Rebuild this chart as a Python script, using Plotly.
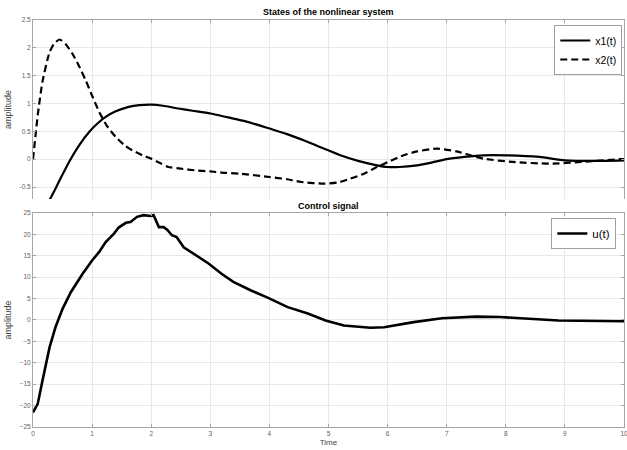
import plotly.graph_objects as go

# ---- data ----
t_x1 = [0, 0.14, 0.28, 0.45, 0.61, 0.78, 0.95, 1.1, 1.23, 1.4, 1.62, 1.8, 2.0, 2.2, 2.46, 2.7,
        3.0, 3.3, 3.6, 4.0, 4.3, 4.6, 4.9, 5.2, 5.5, 5.82, 6.0, 6.2, 6.5, 6.66, 7.0, 7.3, 7.62,
        8.0, 8.57, 9.0, 9.5, 10]
x1 = [-1.0, -0.93, -0.73, -0.38, -0.05, 0.25, 0.49, 0.65, 0.76, 0.86, 0.94, 0.97, 0.98, 0.96,
      0.91, 0.87, 0.82, 0.75, 0.68, 0.55, 0.45, 0.33, 0.20, 0.07, -0.03, -0.11, -0.14, -0.14,
      -0.11, -0.08, 0.0, 0.04, 0.07, 0.07, 0.04, -0.02, -0.03, -0.02]

t_x2 = [0, 0.04, 0.08, 0.16, 0.28, 0.36, 0.45, 0.55, 0.67, 0.78, 0.89, 1.0, 1.12, 1.25, 1.4,
        1.55, 1.68, 1.85, 2.0, 2.15, 2.29, 2.5, 2.74, 3.0, 3.19, 3.5, 4.0, 4.3, 4.54, 4.93,
        5.15, 5.37, 5.6, 5.82, 6.05, 6.27, 6.5, 6.83, 7.17, 7.4, 7.62, 8.12, 8.74, 9.3, 9.92, 10]
x2 = [0.0, 0.4, 0.79, 1.39, 1.92, 2.08, 2.15, 2.07, 1.89, 1.67, 1.42, 1.14, 0.85, 0.60, 0.40,
      0.25, 0.16, 0.07, 0.01, -0.07, -0.14, -0.17, -0.20, -0.22, -0.24, -0.26, -0.32, -0.36,
      -0.41, -0.44, -0.42, -0.35, -0.26, -0.14, -0.03, 0.07, 0.14, 0.19, 0.14, 0.07, 0.01,
      -0.05, -0.08, -0.05, 0.0, 0.0]

t_u = [0.0, 0.08, 0.16, 0.28, 0.38, 0.5, 0.64, 0.84, 1.0, 1.12, 1.23, 1.37, 1.45, 1.57, 1.65,
       1.76, 1.87, 1.99, 2.04, 2.13, 2.21, 2.27, 2.35, 2.43, 2.55, 2.63, 2.8, 2.97, 3.19, 3.39,
       3.69, 3.96, 4.31, 4.65, 4.95, 5.26, 5.71, 5.94, 6.44, 6.92, 7.5, 7.9, 8.89, 9.89, 10]
u = [-21.6, -19.6, -14.2, -6.4, -1.7, 2.6, 6.5, 10.8, 13.9, 15.9, 18.2, 20.2, 21.6, 22.7, 22.9,
     24.1, 24.5, 24.3, 24.5, 21.7, 21.7, 21.1, 19.8, 19.4, 17.0, 16.3, 14.7, 13.2, 10.8, 8.9,
     6.9, 5.3, 3.0, 1.5, -0.1, -1.3, -1.8, -1.7, -0.5, 0.4, 0.8, 0.7, -0.1, -0.3, -0.3]

y1_ticks = [-0.5, 0, 0.5, 1, 1.5, 2, 2.5]
y2_ticks = [-25, -20, -15, -10, -5, 0, 5, 10, 15, 20, 25]
x_ticks = list(range(0, 11))

FONT = "Liberation Sans, Arial, sans-serif"
GRID = "#e8e8e8"
AXL = "#a6a6a6"
TICKC = "#606060"
LABC = "#444444"

fig = go.Figure()
fig.add_trace(go.Scatter(x=t_x1, y=x1, name="x1(t)", mode="lines",
                         line=dict(color="black", width=2.2, shape="spline", smoothing=0.6),
                         xaxis="x", yaxis="y", legend="legend"))
fig.add_trace(go.Scatter(x=t_x2, y=x2, name="x2(t)", mode="lines",
                         line=dict(color="black", width=2.2, dash="7px,4px", shape="spline", smoothing=0.6),
                         xaxis="x", yaxis="y", legend="legend"))
fig.add_trace(go.Scatter(x=t_u, y=u, name="u(t)", mode="lines", line=dict(color="black", width=2.6),
                         xaxis="x2", yaxis="y2", legend="legend2"))

common_ax = dict(showgrid=True, gridcolor=GRID, gridwidth=1, zeroline=False, showline=True, linecolor=AXL,
                 linewidth=1, ticks="inside", ticklen=3, tickcolor=AXL, automargin=False,
                 ticklabeloverflow="allow", tickfont=dict(family=FONT, size=6.5, color=TICKC))

fig.update_layout(
    width=627, height=450,
    margin=dict(l=33, r=3, t=20, b=23, autoexpand=False),
    paper_bgcolor="white", plot_bgcolor="white",
    font=dict(family=FONT, color="black"),
    xaxis=dict(domain=[0, 1], range=[0, 10], anchor="y", side="top", tickvals=x_ticks,
               showticklabels=False, mirror=False, **common_ax),
    yaxis=dict(domain=[0.5602, 1.0], range=[-0.715, 2.5], anchor="x", tickvals=y1_ticks,
               ticktext=[str(v) for v in y1_ticks], mirror="ticks",
               title=dict(text="amplitude", font=dict(family=FONT, size=9, color=LABC), standoff=6), **common_ax),
    xaxis2=dict(domain=[0, 1], range=[0, 10], anchor="y2", tickvals=x_ticks, mirror="ticks",
                title=dict(text="Time", font=dict(family=FONT, size=8, color=LABC), standoff=3), **common_ax),
    yaxis2=dict(domain=[0, 0.5258], range=[-25, 25], anchor="x2", tickvals=y2_ticks, mirror="ticks",
                title=dict(text="amplitude", font=dict(family=FONT, size=9, color=LABC), standoff=6), **common_ax),
    legend=dict(x=0.882, y=0.9877, xanchor="left", yanchor="top", bgcolor="white", bordercolor="#a0a0a0",
                borderwidth=1, font=dict(family=FONT, size=10.5, color="black"), tracegroupgap=0,
                itemwidth=30),
    legend2=dict(x=0.877, y=0.5135, xanchor="left", yanchor="top", bgcolor="white", bordercolor="#a0a0a0",
                 borderwidth=1, font=dict(family=FONT, size=11.5, color="black"), itemwidth=30),
    showlegend=True,
    annotations=[
        dict(text="<b>States of the nonlinear system</b>", xref="paper", yref="paper", x=0.5, y=1.0, yshift=1,
             xanchor="center", yanchor="bottom", showarrow=False, font=dict(family=FONT, size=9, color="black")),
        dict(text="<b>Control signal</b>", xref="paper", yref="paper", x=0.5, y=0.5258, yshift=0,
             xanchor="center", yanchor="bottom", showarrow=False, font=dict(family=FONT, size=9, color="black")),
    ],
)

fig.write_html("out.html", config={"displayModeBar": False},
               post_script="document.body.style.margin='0px'; document.body.style.overflow='hidden';")
